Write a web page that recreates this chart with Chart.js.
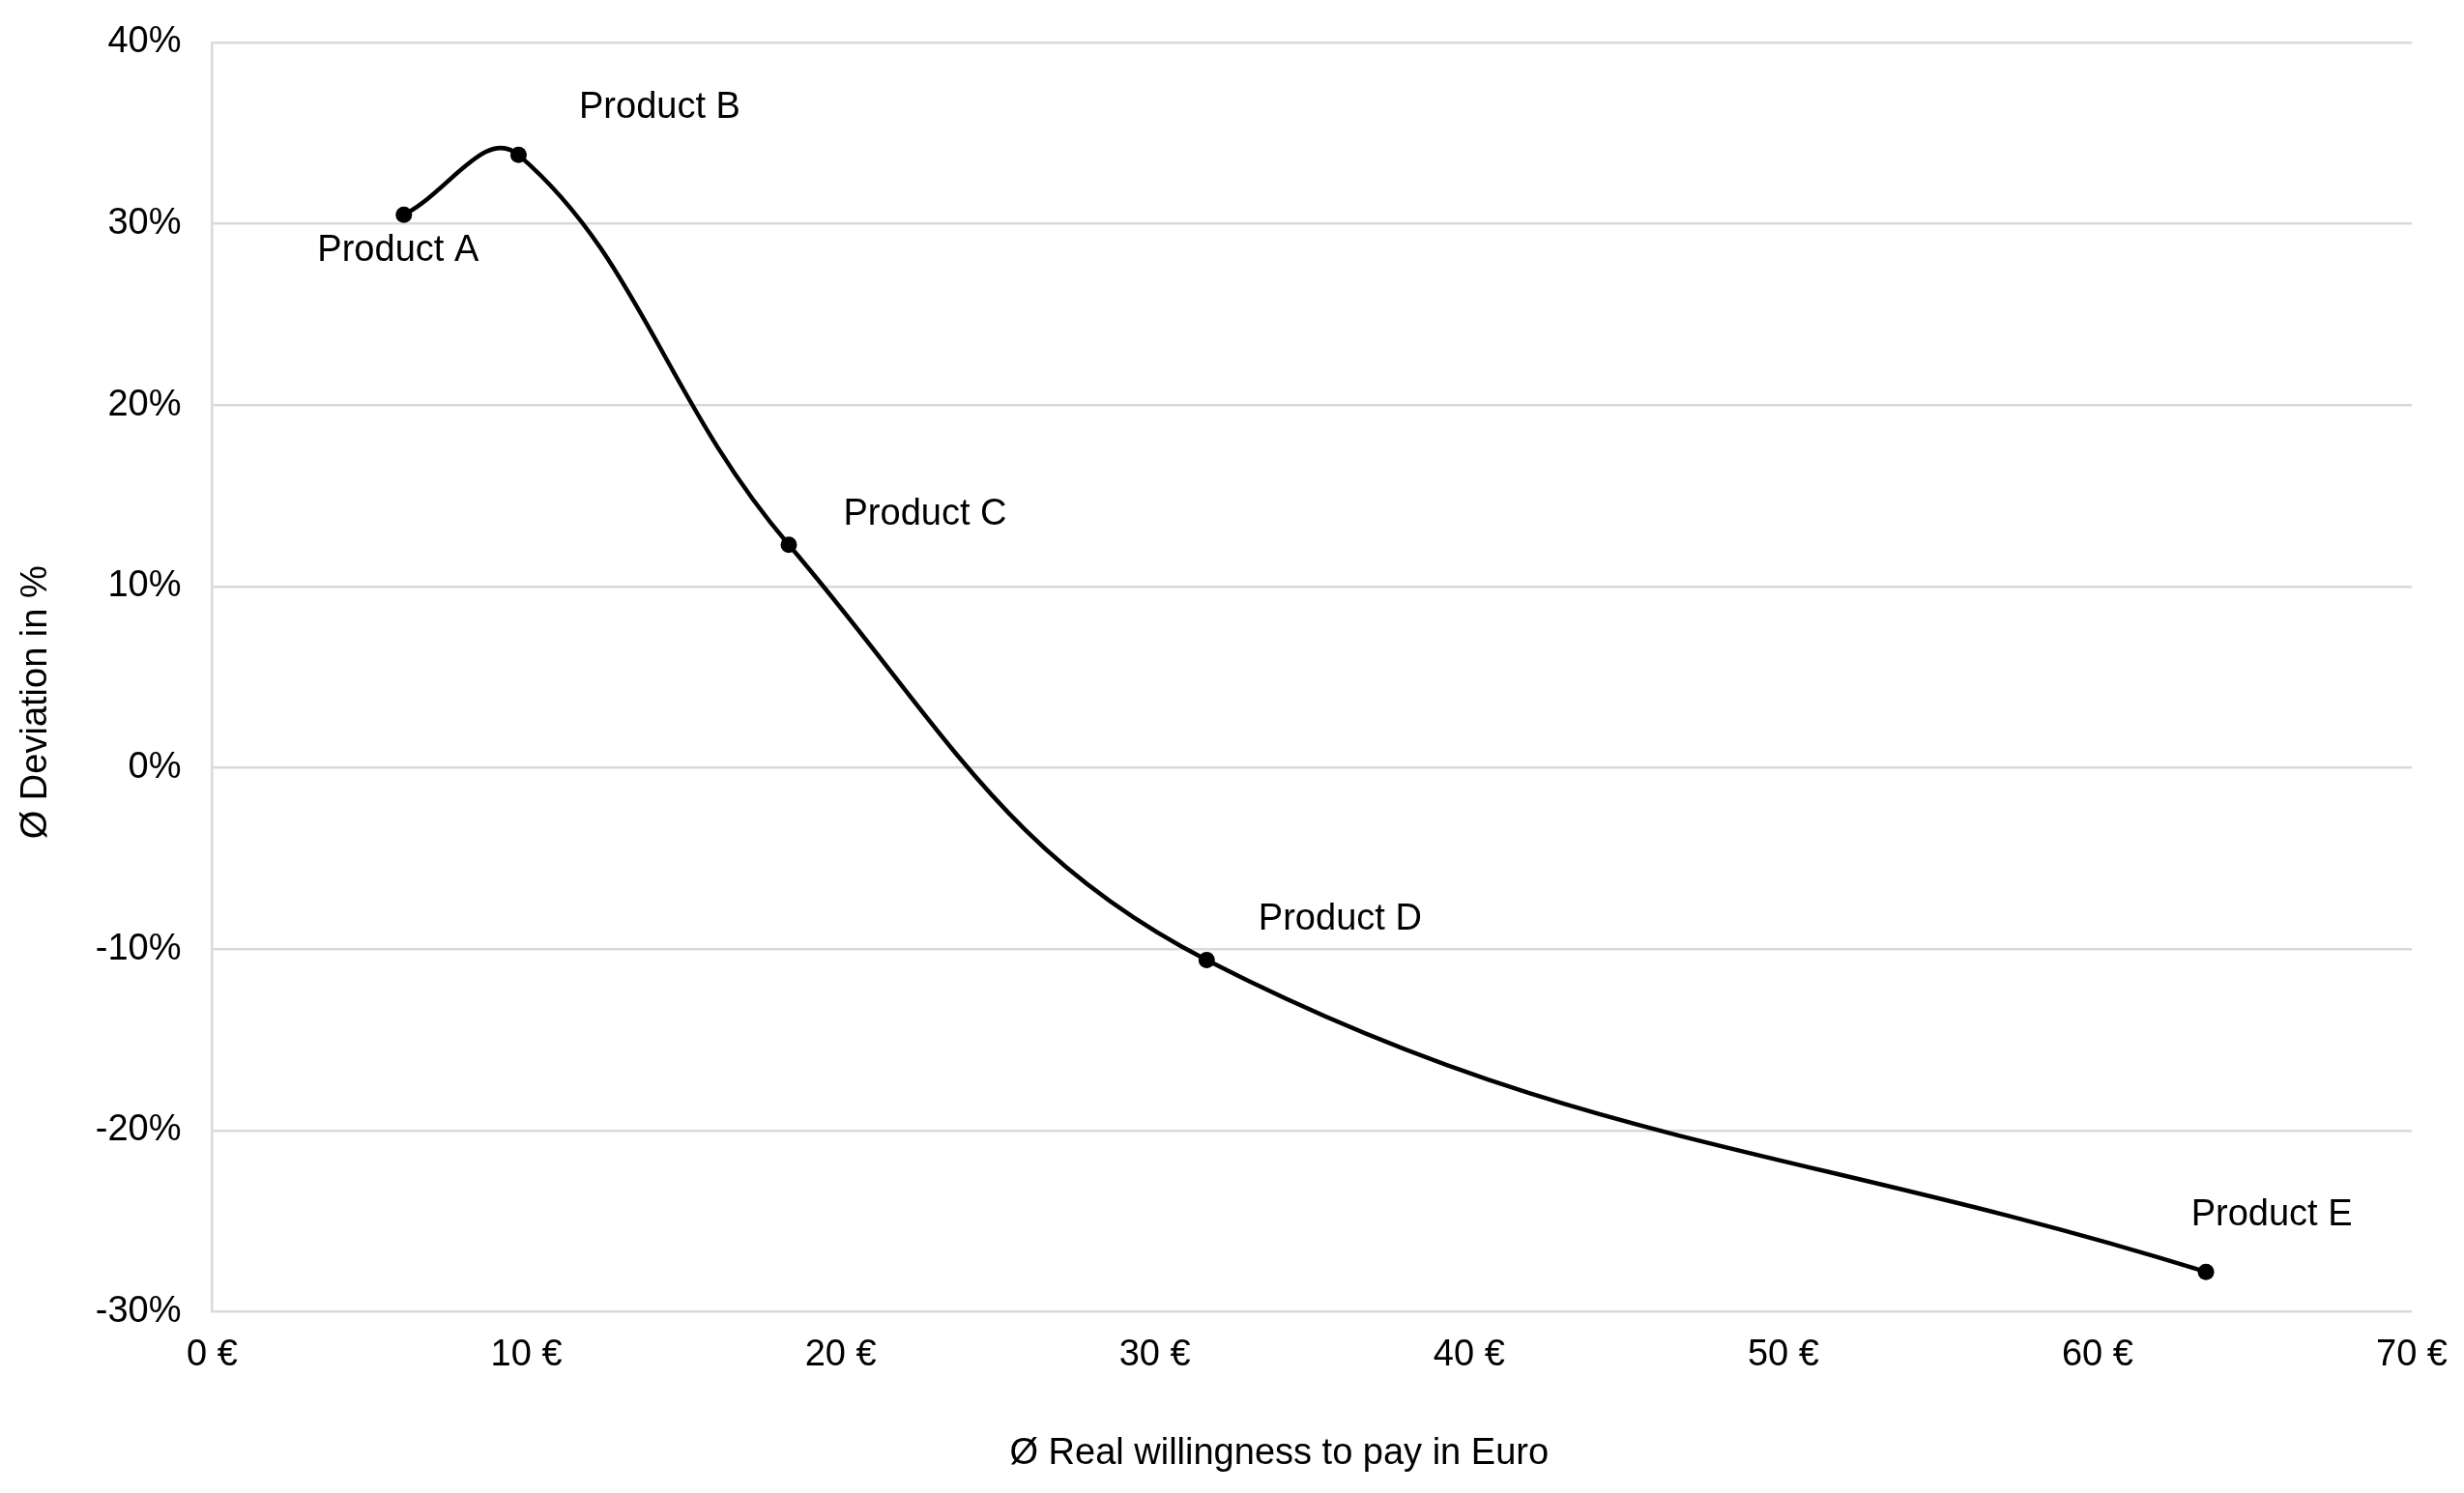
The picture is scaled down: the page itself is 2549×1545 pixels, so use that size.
<!DOCTYPE html>
<html><head><meta charset="utf-8">
<script src="https://cdn.jsdelivr.net/npm/chart.js@4.4.1/dist/chart.umd.min.js"></script>
<style>html,body{margin:0;padding:0;background:#fff;overflow:hidden;}</style>
</head><body>
<canvas id="c" width="2549" height="1545"></canvas>
<script>
// ---- data ----
const productNames = ['Product A', 'Product B', 'Product C', 'Product D', 'Product E'];
const willingnessEuro = [6.1, 9.75, 18.35, 31.65, 63.45];
const deviationPct = [30.5, 33.8, 12.3, -10.6, -27.8];
const xTickValues = [0, 10, 20, 30, 40, 50, 60, 70];
const yTickValues = [-30, -20, -10, 0, 10, 20, 30, 40];
const xAxisTitle = '\u00D8 Real willingness to pay in Euro';
const yAxisTitle = '\u00D8 Deviation in %';

// ---- presentation ----
const FONT = '"Liberation Sans", Arial, Helvetica, sans-serif';
const FS = 38;
const labelOffsets = [[-6, 37], [146, -49], [141, -31], [138, -42], [68, -59]];

const points = willingnessEuro.map((x, i) => ({ x: x, y: deviationPct[i] }));

const labelPlugin = {
  id: 'productLabels',
  afterDatasetsDraw(chart) {
    const ctx = chart.ctx;
    const meta = chart.getDatasetMeta(0);
    ctx.save();
    ctx.font = FS + 'px ' + FONT;
    ctx.fillStyle = '#000';
    ctx.textAlign = 'center';
    ctx.textBaseline = 'middle';
    meta.data.forEach((el, i) => {
      const o = labelOffsets[i];
      ctx.fillText(productNames[i], el.x + o[0], el.y + o[1]);
    });
    ctx.restore();
  }
};

const titlePlugin = {
  id: 'axisTitles',
  afterDraw(chart) {
    const ctx = chart.ctx;
    const a = chart.chartArea;
    ctx.save();
    ctx.font = FS + 'px ' + FONT;
    ctx.fillStyle = '#000';
    ctx.textAlign = 'center';
    ctx.textBaseline = 'middle';
    ctx.fillText(xAxisTitle, (a.left + a.right) / 2 - 34, 1505);
    ctx.translate(38, (a.top + a.bottom) / 2 + 26);
    ctx.rotate(-Math.PI / 2);
    ctx.fillText(yAxisTitle, 0, 0);
    ctx.restore();
  }
};

new Chart(document.getElementById('c'), {
  type: 'scatter',
  data: {
    datasets: [{
      data: points,
      showLine: true,
      borderColor: '#000',
      borderWidth: 4.5,
      tension: 0.4,
      pointRadius: 8.5,
      pointBackgroundColor: '#000',
      pointBorderWidth: 0,
      clip: false
    }]
  },
  options: {
    responsive: false,
    devicePixelRatio: 1,
    animation: false,
    layout: { padding: { left: 0, right: 54, top: 44, bottom: 0 } },
    plugins: { legend: { display: false }, tooltip: { enabled: false } },
    scales: {
      x: {
        type: 'linear',
        min: xTickValues[0],
        max: xTickValues[xTickValues.length - 1],
        afterBuildTicks(s) { s.ticks = xTickValues.map(v => ({ value: v })); },
        afterFit(s) { s.height = 187.5; s.paddingLeft = 0; s.paddingRight = 0; },
        ticks: {
          callback: v => v + ' \u20AC',
          font: { family: FONT, size: FS },
          color: '#000',
          padding: 22,
          maxRotation: 0
        },
        grid: { display: false, drawTicks: false },
        border: { display: false }
      },
      y: {
        type: 'linear',
        min: yTickValues[0],
        max: yTickValues[yTickValues.length - 1],
        afterBuildTicks(s) { s.ticks = yTickValues.map(v => ({ value: v })); },
        afterFit(s) { s.width = 219.5; s.paddingTop = 0; s.paddingBottom = 0; },
        ticks: {
          callback: v => v + '%',
          font: { family: FONT, size: FS },
          color: '#000',
          padding: 32
        },
        grid: { color: '#d9d9d9', lineWidth: 2.5, drawTicks: false },
        border: { display: true, color: '#d9d9d9', width: 2.5 }
      }
    }
  },
  plugins: [labelPlugin, titlePlugin]
});
</script>
</body></html>
